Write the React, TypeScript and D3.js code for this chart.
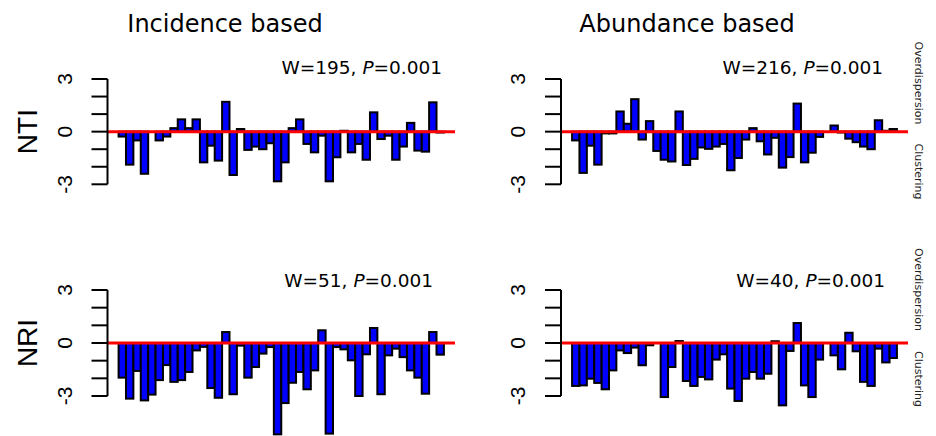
import React from 'react';
import * as d3 from 'd3';

// values, one array per panel (44 samples each)
const ntiIncidence = [
  -0.28, -1.88, -0.5, -2.4, 0, -0.5, -0.28, 0.2, 0.7, 0.2,
  0.7, -1.75, -0.8, -1.65, 1.7, -2.47, 0.15, -1.04, -0.85, -1.0,
  -0.66, -2.83, -1.75, 0.2, 0.7, -0.7, -1.18, -0.23, -2.83, -1.46,
  0.05, -1.18, -0.7, -1.6, 1.1, -0.42, -0.23, -1.6, -0.85, 0.5,
  -1.08, -1.14, 1.67, -0.05,
];
const ntiAbundance = [
  -0.5, -2.35, -0.8, -1.88, -0.1, -0.1, 1.15, 0.45, 1.85, -0.45,
  0.6, -1.1, -1.6, -1.7, 1.15, -1.9, -1.55, -0.9, -0.98, -0.85,
  -0.7, -2.2, -1.5, -0.45, 0.2, -0.55, -1.3, -0.35, -2.05, -1.45,
  1.6, -1.75, -1.2, -0.3, 0, 0.35, -0.05, -0.4, -0.6, -0.85,
  -1.0, 0.65, 0.05, 0.15,
];
const nriIncidence = [
  -1.96, -3.15, -1.58, -3.25, -2.92, -2.1, -1.25, -2.2, -2.1, -1.64,
  -0.42, -0.22, -2.55, -3.1, 0.62, -2.9, -0.15, -1.96, -1.36, -0.6,
  -0.23, -5.17, -3.4, -2.25, -1.64, -2.62, -1.55, 0.72, -5.13, -0.23,
  -0.36, -0.98, -3.0, -0.64, 0.85, -2.9, -0.7, -0.32, -0.8, -1.55,
  -1.96, -2.87, 0.62, -0.66,
];
const nriAbundance = [
  -2.43, -2.4, -2.02, -2.26, -2.62, -1.55, -0.42, -0.57, -0.26, -1.26,
  -0.13, 0, -3.06, -1.36, 0.11, -2.15, -2.43, -1.92, -2.06, -0.94,
  -0.64, -2.58, -3.28, -2.02, -1.64, -2.02, -1.74, 0.1, -3.53, -0.45,
  1.13, -2.4, -3.06, -0.94, 0, -0.7, -1.49, 0.58, -0.47, -2.2,
  -2.43, -0.32, -1.1, -0.85,
];

const columnTitles = ['Incidence based', 'Abundance based'];
const rowLabels = ['NTI', 'NRI'];
const statW = [[195, 216], [51, 40]];
const statP = '0.001';
const yTicks = [-3, -2, -1, 0, 1, 2, 3];
const yTickLabels = [-3, 0, 3];

const W = 936;
const H = 436;

// plot regions
const colX = [
  { left: 107.5, right: 455, title: 225, statEnd: [442, 433] },
  { left: 561, right: 908, title: 687, statEnd: [883, 885] },
];
const rowY = [
  { top: 79, bottom: 184.3, stat: 74, over: 83, clus: 171.5 },
  { top: 290, bottom: 396, stat: 286.5, over: 289.5, clus: 379 },
];

const grid = [
  [ntiIncidence, ntiAbundance],
  [nriIncidence, nriAbundance],
];

const Panel = ({ data, col, row, w }) => {
  const c = colX[col];
  const r = rowY[row];
  const x = d3.scaleLinear().domain([-1.5, data.length + 1.5]).range([c.left, c.right]);
  const y = d3.scaleLinear().domain([-3, 3]).range([r.bottom, r.top]);
  return (
    <g>
      {data.map((v, i) => (
        <rect
          key={i}
          x={x(i)}
          width={x(i + 1) - x(i)}
          y={y(Math.max(0, v))}
          height={Math.abs(y(v) - y(0))}
          fill="#0000ff"
          stroke="#000"
          strokeWidth={2}
        />
      ))}
      <line x1={c.left} x2={c.right} y1={y(0)} y2={y(0)} stroke="#ff0000" strokeWidth={3} />
      {/* y axis */}
      <line x1={c.left} x2={c.left} y1={y(-3)} y2={y(3)} stroke="#000" strokeWidth={2} />
      {yTicks.map(t => (
        <line key={t} x1={c.left - 16} x2={c.left} y1={y(t)} y2={y(t)} stroke="#000" strokeWidth={2} />
      ))}
      {yTickLabels.map(t => (
        <text
          key={t}
          transform={`translate(${c.left - 36},${y(t)}) rotate(-90)`}
          textAnchor="middle"
          fontFamily="Liberation Sans, Arial, sans-serif"
          fontSize={21}
        >
          {t}
        </text>
      ))}
      <text
        x={c.statEnd[row]}
        y={r.stat}
        textAnchor="end"
        fontFamily="DejaVu Sans, sans-serif"
        fontSize={18.5}
      >
        {`W=${w}, `}
        <tspan fontStyle="italic">P</tspan>
        {`=${statP}`}
      </text>
    </g>
  );
};

export default function App() {
  return (
    <svg
      width={W}
      height={H}
      style={{ position: 'absolute', left: 0, top: 0, background: '#fff' }}
    >
      <rect width={W} height={H} fill="#fff" />
      {columnTitles.map((t, i) => (
        <text
          key={t}
          x={colX[i].title}
          y={32}
          textAnchor="middle"
          fontFamily="DejaVu Sans, sans-serif"
          fontSize={24}
        >
          {t}
        </text>
      ))}
      {rowLabels.map((t, i) => {
        const ymid = (rowY[i].top + rowY[i].bottom) / 2;
        return (
          <text
            key={t}
            transform={`translate(37,${ymid}) rotate(-90)`}
            textAnchor="middle"
            fontFamily="Liberation Sans, Arial, sans-serif"
            fontSize={28}
          >
            {t}
          </text>
        );
      })}
      {rowY.map((r, i) => (
        <g key={i} fontFamily="DejaVu Sans, sans-serif" fontSize={11} fill="#222">
          <text transform={`translate(915,${r.over}) rotate(90)`} textAnchor="middle">
            Overdispersion
          </text>
          <text transform={`translate(915,${r.clus}) rotate(90)`} textAnchor="middle">
            Clustering
          </text>
        </g>
      ))}
      {grid.map((rowData, ri) =>
        rowData.map((d, ci) => (
          <Panel key={`${ri}-${ci}`} data={d} col={ci} row={ri} w={statW[ri][ci]} />
        ))
      )}
    </svg>
  );
}
